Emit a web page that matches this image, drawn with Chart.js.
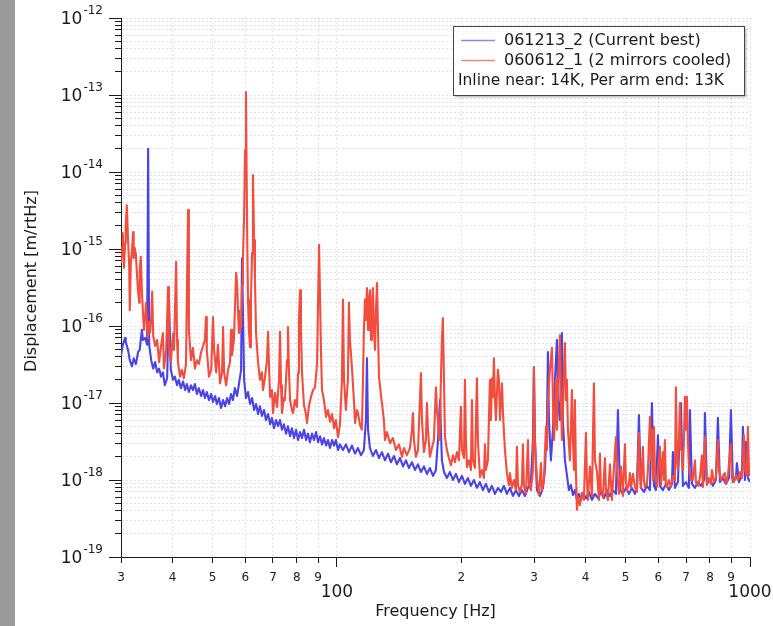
<!DOCTYPE html>
<html>
<head>
<meta charset="utf-8">
<title>Displacement noise spectrum</title>
<script src="https://cdn.jsdelivr.net/npm/chart.js@4.4.1/dist/chart.umd.min.js"></script>
<style>
  html, body { margin: 0; padding: 0; background: #fff; overflow: hidden; }
  canvas { display: block; }
</style>
</head>
<body>
<canvas id="spectrum" width="773" height="626"></canvas>
<script>
// Spectrum 061213_2 (current best), frequency in Hz and displacement in m/rtHz
const blueFreq = [
  30.0, 30.3, 30.7, 30.8, 31.2, 31.5, 31.9, 32.2, 32.6, 33.0,
  33.3, 33.7, 33.9, 34.3, 34.7, 34.9, 35.1, 35.5, 35.9, 36.3,
  36.7, 37.1, 37.5, 37.9, 38.3, 38.8, 39.2, 39.6, 40.1, 40.5,
  41.0, 41.4, 41.9, 42.4, 42.9, 43.3, 43.8, 44.3, 44.8, 45.3,
  45.8, 46.3, 46.9, 47.4, 47.9, 48.4, 49.0, 49.6, 50.1, 50.7,
  51.2, 51.8, 52.4, 53.0, 53.6, 54.2, 54.8, 55.4, 56.0, 56.6,
  57.3, 57.9, 58.6, 58.9, 59.6, 60.2, 60.9, 61.6, 62.3, 63.0,
  63.7, 64.4, 65.1, 65.8, 66.6, 67.3, 68.1, 68.9, 69.6, 70.4,
  71.2, 72.0, 72.8, 73.6, 74.4, 75.3, 76.1, 77.0, 77.8, 78.7,
  79.6, 80.5, 81.4, 82.3, 83.2, 84.2, 85.1, 86.0, 87.0, 88.0,
  89.0, 90.0, 91.0, 92.0, 93.0, 94.1, 95.1, 96.2, 97.3, 98.4,
  99.4, 100.6, 101.7, 103.4, 105.1, 106.9, 108.7, 110.6, 112.4, 114.3,
  116.2, 117.5, 118.2, 118.9, 120.2, 122.2, 124.3, 126.4, 128.5, 130.7,
  132.9, 135.1, 137.4, 139.7, 142.1, 144.5, 146.9, 149.4, 151.9, 154.5,
  157.1, 159.7, 162.4, 165.1, 167.9, 170.8, 173.6, 175.6, 177.6, 179.5,
  181.6, 184.6, 187.7, 190.9, 194.1, 197.4, 200.7, 204.1, 207.5, 211.0,
  214.6, 218.2, 221.9, 225.6, 229.4, 233.3, 237.2, 241.3, 245.3, 249.5,
  253.7, 257.9, 262.3, 266.7, 271.2, 275.8, 280.4, 285.2, 290.0, 294.9,
  298.2, 299.8, 301.5, 304.9, 310.0, 315.3, 318.8, 322.4, 324.2, 326.0,
  329.6, 333.3, 337.1, 340.9, 342.8, 346.6, 350.5, 352.4, 356.4, 360.4,
  364.4, 368.5, 372.7, 376.8, 381.1, 385.3, 389.6, 394.0, 400.7, 407.4,
  414.3, 421.3, 428.4, 435.6, 443.0, 450.4, 458.0, 465.7, 473.6, 478.9,
  484.3, 492.4, 500.7, 509.2, 517.8, 526.5, 532.4, 538.4, 544.4, 553.6,
  562.9, 572.4, 578.8, 585.3, 591.9, 598.5, 605.2, 615.4, 625.8, 636.4,
  647.1, 650.7, 658.0, 669.1, 680.4, 688.0, 699.6, 711.4, 715.4, 723.4,
  735.6, 748.0, 760.6, 773.5, 777.8, 786.5, 799.8, 813.2, 826.9, 836.2,
  845.6, 859.8, 874.3, 889.1, 899.1, 909.1, 924.5, 929.6, 940.1, 955.9,
  961.2, 972.1, 977.5, 988.4, 1000
];
const blueAmp = [
  4.1e-17, 5.7e-17, 7.0e-17, 6.2e-17, 4.9e-17, 3.6e-17, 3.0e-17, 3.8e-17, 3.2e-17, 4.6e-17,
  4.9e-17, 8.9e-17, 6.6e-17, 7.0e-17, 5.7e-17, 2.0e-14, 5.7e-17, 3.6e-17, 2.8e-17, 3.4e-17,
  2.5e-17, 2.8e-17, 2.2e-17, 2.5e-17, 1.7e-17, 2.1e-17, 2.3e-16, 2.7e-17, 2.0e-17, 2.2e-17,
  1.7e-17, 2.0e-17, 1.56e-17, 1.9e-17, 1.47e-17, 1.76e-17, 1.39e-17, 1.7e-17, 1.47e-17, 1.76e-17,
  1.31e-17, 1.56e-17, 1.23e-17, 1.47e-17, 1.16e-17, 1.39e-17, 1.09e-17, 1.31e-17, 1.03e-17, 1.23e-17,
  9.7e-18, 1.16e-17, 8.6e-18, 1.09e-17, 9.1e-18, 1.16e-17, 9.7e-18, 1.31e-17, 1.09e-17, 1.56e-17,
  1.23e-17, 1.76e-17, 2.7e-17, 7.6e-16, 2.0e-17, 1.16e-17, 1.39e-17, 9.7e-18, 1.16e-17, 8.1e-18,
  9.7e-18, 7.2e-18, 9.1e-18, 6.8e-18, 8.1e-18, 6.0e-18, 7.2e-18, 5.3e-18, 6.4e-18, 4.7e-18,
  6.0e-18, 5.0e-18, 6.0e-18, 4.5e-18, 5.3e-18, 4.0e-18, 5.0e-18, 3.7e-18, 4.7e-18, 3.5e-18,
  4.5e-18, 3.3e-18, 4.2e-18, 3.5e-18, 4.5e-18, 3.3e-18, 4.0e-18, 3.1e-18, 4.0e-18, 3.3e-18,
  4.2e-18, 3.1e-18, 3.7e-18, 2.9e-18, 3.5e-18, 2.8e-18, 3.3e-18, 2.6e-18, 3.3e-18, 2.8e-18,
  3.3e-18, 2.45e-18, 2.9e-18, 2.45e-18, 2.9e-18, 2.3e-18, 2.8e-18, 2.2e-18, 2.6e-18, 2.1e-18,
  2.45e-18, 6.0e-18, 3.8e-17, 4.5e-18, 2.6e-18, 2.05e-18, 2.45e-18, 1.93e-18, 2.3e-18, 1.8e-18,
  2.2e-18, 1.7e-18, 2.05e-18, 1.6e-18, 1.93e-18, 1.5e-18, 1.8e-18, 1.43e-18, 1.7e-18, 1.35e-18,
  1.6e-18, 1.27e-18, 1.5e-18, 1.2e-18, 1.43e-18, 1.13e-18, 1.35e-18, 3.3e-18, 1.09e-17, 1.8e-18,
  1.27e-18, 1.06e-18, 1.27e-18, 1.0e-18, 1.2e-18, 9.4e-19, 1.13e-18, 8.9e-19, 1.06e-18, 8.4e-19,
  1.0e-18, 7.9e-19, 9.4e-19, 7.4e-19, 8.9e-19, 7.0e-19, 8.4e-19, 6.6e-19, 7.9e-19, 7.0e-19,
  8.4e-19, 6.6e-19, 7.9e-19, 6.2e-19, 7.4e-19, 6.2e-19, 7.4e-19, 6.2e-19, 7.9e-19, 1.0e-18,
  3.3e-18, 2.9e-17, 3.3e-18, 7.4e-19, 6.2e-19, 7.9e-19, 1.35e-18, 6.0e-18, 4.6e-17, 6.0e-18,
  1.8e-18, 4.5e-18, 2.0e-17, 6.6e-17, 1.09e-17, 6.0e-18, 8.1e-17, 6.0e-18, 1.8e-18, 1.16e-18,
  7.4e-19, 8.6e-19, 6.4e-19, 7.4e-19, 5.5e-19, 6.6e-19, 5.5e-19, 6.6e-19, 5.8e-19, 7.0e-19,
  5.5e-19, 6.6e-19, 5.8e-19, 7.0e-19, 5.8e-19, 7.4e-19, 6.2e-19, 7.4e-19, 6.6e-19, 8.1e-18,
  7.4e-19, 6.6e-19, 7.9e-19, 6.6e-19, 7.9e-19, 6.6e-19, 8.4e-19, 7.0e-18, 7.9e-19, 7.0e-19,
  8.4e-19, 7.4e-19, 1.0e-17, 8.4e-19, 7.4e-19, 3.8e-18, 8.4e-19, 7.4e-19, 8.9e-19, 7.4e-19,
  8.9e-19, 2.3e-18, 7.9e-19, 9.4e-19, 1.0e-17, 8.4e-19, 9.4e-19, 7.9e-19, 8.1e-18, 8.9e-19,
  7.9e-19, 9.4e-19, 8.4e-19, 1.0e-18, 7.4e-18, 8.9e-19, 1.0e-18, 8.4e-19, 1.0e-18, 6.4e-18,
  9.4e-19, 1.06e-18, 8.9e-19, 1.06e-18, 8.1e-18, 9.4e-19, 1.06e-18, 1.66e-18, 9.4e-19, 1.13e-18,
  4.9e-18, 1.0e-18, 3.1e-18, 1.06e-18, 9.4e-19
];

// Spectrum 060612_1 (2 mirrors cooled)
const redFreq = [
  30.0, 30.2, 30.3, 30.5, 30.7, 30.8, 31.0, 31.2, 31.4, 31.5,
  31.7, 31.9, 32.1, 32.2, 32.4, 32.6, 32.8, 33.0, 33.2, 33.3,
  33.5, 33.7, 33.9, 34.1, 34.3, 34.5, 34.7, 34.9, 35.1, 35.3,
  35.5, 35.7, 35.9, 36.3, 36.7, 37.1, 37.5, 37.9, 38.1, 38.6,
  39.0, 39.2, 39.6, 40.1, 40.3, 40.8, 41.0, 41.2, 41.7, 42.1,
  42.6, 43.1, 43.3, 43.6, 43.8, 44.3, 44.8, 45.3, 45.8, 46.3,
  46.9, 47.4, 47.9, 48.2, 48.4, 49.0, 49.6, 50.1, 50.4, 51.0,
  51.5, 52.1, 52.7, 53.0, 53.3, 53.9, 54.5, 55.1, 55.4, 55.7,
  56.3, 56.6, 57.0, 57.3, 57.6, 57.9, 58.6, 58.9, 59.2, 59.6,
  59.9, 60.2, 60.6, 60.9, 61.2, 61.6, 61.9, 62.3, 62.6, 63.0,
  63.3, 63.7, 64.4, 65.1, 65.8, 66.2, 66.9, 67.7, 68.1, 68.5,
  68.9, 69.6, 70.0, 70.8, 71.6, 72.4, 72.8, 73.2, 73.6, 74.4,
  74.8, 75.7, 76.1, 76.5, 77.0, 77.8, 78.3, 79.1, 80.0, 80.5,
  80.9, 81.4, 81.8, 82.3, 83.2, 84.2, 84.6, 85.6, 86.5, 87.5,
  88.5, 89.5, 90.0, 90.5, 91.0, 91.5, 92.0, 93.0, 94.1, 95.1,
  96.2, 97.3, 98.4, 99.4, 100.6, 101.7, 102.8, 103.4, 104.0, 105.1,
  106.3, 106.9, 107.5, 108.7, 109.9, 110.6, 111.8, 112.4, 113.7, 114.9,
  115.6, 116.2, 116.9, 117.5, 118.2, 118.9, 119.5, 120.2, 120.9, 121.5,
  122.2, 122.9, 123.6, 124.3, 125.0, 125.7, 126.4, 127.8, 128.5, 129.9,
  130.7, 132.1, 134.4, 136.6, 138.9, 141.3, 143.7, 145.3, 147.7, 150.2,
  151.9, 152.7, 153.6, 155.3, 157.1, 158.8, 159.7, 160.6, 162.4, 164.2,
  165.1, 166.1, 167.9, 169.8, 171.7, 173.6, 174.6, 175.6, 176.6, 177.6,
  178.5, 179.5, 180.5, 181.6, 182.6, 184.6, 186.7, 188.8, 190.9, 193.0,
  195.2, 197.4, 199.6, 200.7, 203.0, 204.1, 205.2, 206.4, 208.7, 211.0,
  212.2, 213.4, 215.8, 218.2, 219.4, 221.9, 224.4, 226.9, 228.2, 229.4,
  232.0, 234.6, 235.9, 237.2, 238.6, 239.9, 241.3, 242.6, 244.0, 245.3,
  246.7, 248.1, 250.9, 252.3, 255.1, 257.9, 260.8, 262.3, 265.2, 268.2,
  271.2, 272.7, 274.3, 277.3, 280.4, 282.0, 283.6, 286.8, 290.0, 291.6,
  294.9, 298.2, 299.8, 301.5, 304.9, 308.3, 311.8, 313.5, 317.0, 320.6,
  322.4, 324.2, 327.8, 331.5, 333.3, 335.2, 337.1, 339.0, 340.9, 342.8,
  346.6, 348.5, 350.5, 352.4, 354.4, 356.4, 358.4, 360.4, 362.4, 366.5,
  370.6, 372.7, 374.8, 376.8, 378.9, 381.1, 383.2, 387.5, 391.8, 396.2,
  400.7, 402.9, 405.1, 409.7, 414.3, 418.9, 421.3, 426.0, 430.8, 433.2,
  435.6, 440.5, 445.4, 447.9, 452.9, 458.0, 463.1, 468.3, 473.6, 476.2,
  481.6, 487.0, 492.4, 497.9, 500.7, 503.5, 509.2, 512.0, 514.9, 520.7,
  526.5, 532.4, 538.4, 541.4, 544.4, 550.5, 553.6, 556.7, 562.9, 566.1,
  572.4, 575.6, 578.8, 582.0, 585.3, 588.6, 595.2, 605.2, 608.6, 615.4,
  618.8, 622.3, 625.8, 629.3, 636.4, 643.5, 650.7, 658.0, 661.7, 665.4,
  669.1, 672.8, 676.6, 680.4, 684.2, 688.0, 691.9, 695.7, 699.6, 703.5,
  707.5, 711.4, 719.4, 727.4, 735.6, 739.7, 748.0, 756.4, 764.9, 769.1,
  777.8, 782.1, 786.5, 795.3, 804.2, 808.7, 817.8, 826.9, 836.2, 840.9,
  850.3, 859.8, 869.5, 874.3, 884.1, 899.1, 904.1, 914.2, 924.5, 934.8,
  945.3, 955.9, 966.7, 972.1, 982.9, 988.4, 994.0, 1000
];
const redAmp = [
  6.6e-16, 1.06e-15, 1.61e-15, 5.7e-16, 1.2e-15, 2.05e-15, 3.7e-15, 1.31e-15, 6.2e-16, 1.6e-16,
  6.8e-16, 9.7e-16, 1.66e-15, 7.6e-16, 1.03e-15, 8.4e-16, 4.6e-16, 2.8e-16, 2.0e-16, 5.3e-16,
  7.9e-16, 2.9e-16, 1.5e-16, 8.9e-17, 1.27e-16, 2.0e-16, 1.03e-16, 7.0e-17, 1.13e-16, 8.4e-17,
  1.27e-16, 2.8e-16, 7.4e-17, 5.5e-17, 6.6e-17, 3.4e-17, 5.5e-17, 8.1e-17, 2.8e-17, 4.9e-17,
  3.2e-16, 6.2e-17, 3.4e-17, 7.9e-17, 4.9e-17, 6.8e-16, 6.6e-17, 3.4e-17, 2.2e-17, 2.7e-17,
  2.1e-17, 3.2e-17, 2.2e-16, 3.2e-15, 8.9e-17, 3.6e-17, 5.2e-17, 2.8e-17, 3.6e-17, 3.2e-17,
  4.6e-17, 5.5e-17, 6.6e-17, 1.31e-16, 4.9e-17, 2.2e-17, 2.7e-17, 1.31e-16, 4.9e-17, 2.5e-17,
  5.7e-17, 1.8e-17, 2.5e-17, 9.7e-17, 2.5e-17, 1.7e-17, 2.7e-17, 3.4e-17, 8.9e-17, 4.2e-17,
  6.6e-17, 1.6e-16, 4.9e-16, 3.6e-16, 1.6e-16, 8.1e-17, 9.7e-17, 3.4e-16, 7.2e-16, 2.9e-15,
  1.93e-14, 1.09e-13, 1.76e-15, 2.2e-16, 8.9e-17, 5.3e-17, 2.2e-16, 8.9e-16, 9.1e-15, 1.31e-15,
  4.0e-16, 8.1e-17, 3.4e-17, 2.0e-17, 2.5e-17, 1.47e-17, 2.1e-17, 3.6e-17, 8.4e-17, 2.7e-17,
  1.2e-17, 1.47e-17, 7.4e-18, 1.35e-17, 8.9e-18, 2.0e-17, 8.4e-17, 1.7e-17, 7.4e-18, 1.16e-17,
  1.09e-17, 3.6e-17, 9.7e-17, 2.7e-17, 1.09e-17, 8.1e-18, 7.4e-18, 1.09e-17, 8.9e-18, 2.45e-17,
  1.2e-16, 2.9e-16, 8.9e-17, 2.45e-17, 9.4e-18, 7.0e-18, 5.5e-18, 9.4e-18, 1.2e-17, 1.47e-17,
  1.6e-17, 3.3e-17, 2.2e-16, 1.13e-15, 2.2e-16, 4.5e-17, 1.47e-17, 1.09e-17, 6.6e-18, 8.1e-18,
  5.7e-18, 7.2e-18, 4.7e-18, 6.0e-18, 3.6e-18, 5.2e-18, 2.0e-17, 2.2e-16, 2.0e-17, 8.1e-18,
  2.0e-17, 2.0e-16, 6.6e-17, 2.9e-17, 1.09e-17, 5.5e-18, 8.1e-18, 7.4e-18, 5.2e-18, 4.5e-18,
  2.0e-17, 8.9e-17, 2.2e-16, 1.2e-16, 3.1e-16, 8.9e-17, 2.2e-16, 2.9e-16, 6.6e-17, 1.6e-16,
  3.1e-16, 8.9e-17, 4.9e-17, 1.6e-16, 3.6e-16, 8.9e-17, 2.2e-17, 1.27e-17, 1.0e-17, 6.0e-18,
  3.3e-18, 4.2e-18, 3.0e-18, 3.5e-18, 2.45e-18, 2.9e-18, 2.0e-18, 2.6e-18, 2.1e-18, 2.6e-18,
  4.5e-18, 7.4e-18, 3.3e-18, 2.0e-18, 2.45e-18, 1.09e-17, 2.45e-17, 6.0e-18, 2.3e-18, 3.3e-18,
  1.0e-17, 4.5e-18, 2.0e-18, 2.6e-18, 3.3e-18, 1.6e-17, 8.1e-18, 6.0e-18, 3.3e-18, 4.5e-18,
  2.0e-17, 6.6e-17, 1.27e-16, 2.0e-17, 3.6e-18, 2.45e-18, 1.93e-18, 1.56e-18, 2.1e-18, 1.7e-18,
  2.3e-18, 1.8e-18, 8.9e-18, 2.45e-18, 1.93e-18, 2.0e-17, 3.3e-18, 1.47e-18, 1.8e-18, 1.35e-18,
  1.09e-17, 1.8e-18, 1.43e-18, 2.1e-17, 3.3e-18, 1.09e-18, 1.35e-18, 1.06e-18, 2.9e-18, 1.35e-18,
  1.8e-18, 2.0e-17, 6.0e-18, 2.1e-17, 1.2e-17, 3.8e-17, 1.09e-17, 6.0e-18, 1.35e-17, 2.7e-17,
  2.0e-17, 6.0e-18, 1.8e-17, 7.4e-18, 2.45e-18, 1.23e-18, 8.6e-19, 1.23e-18, 7.9e-19, 1.0e-18,
  7.4e-19, 2.7e-18, 8.6e-19, 7.0e-19, 8.9e-19, 2.9e-18, 8.4e-19, 6.6e-19, 3.3e-18, 8.9e-19,
  7.4e-19, 1.35e-18, 2.9e-17, 3.3e-18, 1.0e-18, 6.4e-19, 1.66e-18, 7.4e-19, 1.0e-18, 4.9e-18,
  2.45e-18, 1.09e-17, 2.7e-17, 5.2e-17, 1.09e-17, 3.3e-18, 6.0e-18, 2.0e-17, 4.5e-18, 1.47e-17,
  7.6e-17, 1.09e-17, 3.3e-18, 8.1e-18, 2.7e-17, 6.0e-17, 1.09e-17, 2.0e-17, 4.5e-18, 1.8e-18,
  1.47e-17, 3.3e-18, 1.35e-18, 1.09e-17, 1.35e-18, 4.1e-19, 6.0e-19, 4.7e-19, 6.8e-19, 5.5e-19,
  4.1e-18, 1.0e-18, 5.5e-19, 1.5e-18, 6.2e-19, 1.8e-17, 1.8e-18, 1.3e-18, 5.5e-19, 2.2e-18,
  7.4e-19, 6.0e-19, 1.93e-18, 7.4e-19, 5.5e-19, 1.6e-18, 5.5e-19, 1.4e-18, 3.6e-18, 1.35e-18,
  6.6e-19, 1.5e-18, 6.2e-19, 2.9e-18, 1.0e-18, 7.4e-19, 8.9e-19, 1.23e-18, 7.9e-19, 1.2e-18,
  8.1e-19, 7.0e-19, 4.1e-18, 1.16e-18, 7.9e-19, 2.7e-18, 1.0e-18, 8.1e-19, 8.9e-19, 1.35e-18,
  6.6e-18, 1.8e-18, 4.5e-18, 1.0e-18, 4.9e-18, 1.35e-18, 8.1e-19, 2.7e-18, 8.6e-19, 2.3e-18,
  1.0e-18, 3.3e-18, 8.6e-19, 8.1e-19, 1.0e-18, 8.1e-19, 1.13e-18, 1.0e-18, 1.6e-17, 1.8e-18,
  1.35e-18, 3.3e-18, 1.0e-17, 2.45e-18, 2.45e-18, 1.35e-18, 3.3e-18, 1.2e-17, 4.5e-18, 1.2e-17,
  3.3e-18, 1.47e-18, 1.0e-18, 1.0e-18, 1.8e-18, 9.4e-19, 8.4e-19, 1.06e-18, 2.1e-18, 8.1e-19,
  3.6e-18, 1.35e-18, 8.6e-19, 1.06e-18, 8.9e-19, 1.35e-18, 9.4e-19, 1.06e-18, 3.3e-18, 1.35e-18,
  1.0e-18, 1.13e-18, 1.23e-18, 8.9e-19, 1.13e-18, 2.9e-18, 1.06e-18, 9.4e-19, 1.16e-18, 1.0e-18,
  1.27e-18, 1.06e-18, 3.8e-18, 1.35e-18, 1.16e-18, 4.9e-18, 1.35e-18, 1.13e-18
];

// Axis ticks
const freqTicks = [30, 40, 50, 60, 70, 80, 90, 100, 200, 300, 400, 500, 600, 700, 800, 900, 1000];
const freqTickLabels = ['3', '4', '5', '6', '7', '8', '9', '100', '2', '3', '4', '5', '6', '7', '8', '9', '1000'];
const freqMajor = [100, 1000];
const ampDecades = [-19, -18, -17, -16, -15, -14, -13, -12];
const ampMantissas = [2, 3, 4, 5, 6, 7, 8, 9];

const seriesNames = ['061213_2 (Current best)', '060612_1 (2 mirrors cooled)'];
const noteText = 'Inline near: 14K, Per arm end: 13K';

const BLUE = '#4a43e6';
const RED = '#f24d3d';
const GRID = 'rgba(170, 170, 232, 0.38)';
const FONT = '"DejaVu Sans", sans-serif';

function toPoints(freqs, amps) {
  return freqs.map((f, i) => ({ x: f, y: amps[i] }));
}

function buildAmpTicks() {
  const ticks = [];
  ampDecades.forEach((d, i) => {
    ticks.push({ value: Math.pow(10, d), major: true });
    if (i < ampDecades.length - 1) {
      ampMantissas.forEach(m => ticks.push({ value: m * Math.pow(10, d), major: false }));
    }
  });
  return ticks;
}

// Tick marks, superscript tick labels, titles, legend box
const decorations = {
  id: 'decorations',
  beforeDraw(chart) {
    const { ctx, width, height } = chart;
    ctx.save();
    ctx.fillStyle = '#ffffff';
    ctx.fillRect(0, 0, width, height);
    ctx.fillStyle = '#9b9b9b';
    ctx.fillRect(0, 0, 15, height);
    ctx.restore();
  },
  afterDraw(chart) {
    const { ctx, chartArea: area, scales } = chart;
    const xs = scales.x, ys = scales.y;
    ctx.save();

    // tick marks
    ctx.strokeStyle = '#1a1a1a';
    ctx.lineWidth = 1;
    ctx.beginPath();
    ys.ticks.forEach(t => {
      const py = Math.round(ys.getPixelForValue(t.value) - 0.5) + 0.5;
      ctx.moveTo(area.left - (t.major ? 12 : 6), py);
      ctx.lineTo(area.left + 0.5, py);
    });
    xs.ticks.forEach(t => {
      const px = Math.round(xs.getPixelForValue(t.value) - 0.5) + 0.5;
      ctx.moveTo(px, area.bottom);
      ctx.lineTo(px, area.bottom + (t.major ? 10 : 6));
    });
    ctx.stroke();

    // y tick labels: 10 with superscript exponent
    ctx.fillStyle = '#1a1a1a';
    ctx.textBaseline = 'middle';
    ctx.textAlign = 'left';
    const labelRight = area.left - 18;
    ampDecades.forEach(d => {
      const py = ys.getPixelForValue(Math.pow(10, d));
      const exp = String(d);
      ctx.font = '12px ' + FONT;
      const we = ctx.measureText(exp).width;
      ctx.font = '17px ' + FONT;
      const wb = ctx.measureText('10').width;
      ctx.fillText('10', labelRight - we - wb - 1, py + 2);
      ctx.font = '12px ' + FONT;
      ctx.fillText(exp, labelRight - we, py - 7);
    });

    // x tick labels
    ctx.textAlign = 'center';
    freqTicks.forEach((v, i) => {
      const px = xs.getPixelForValue(v);
      if (freqMajor.includes(v)) {
        ctx.font = '17px ' + FONT;
        ctx.fillText(freqTickLabels[i], px, area.bottom + 36);
      } else {
        ctx.font = '12px ' + FONT;
        ctx.fillText(freqTickLabels[i], px, area.bottom + 21);
      }
    });

    // axis titles
    ctx.font = '16px ' + FONT;
    ctx.fillText('Frequency [Hz]', (area.left + area.right) / 2, 612);
    ctx.save();
    ctx.translate(32, 281);
    ctx.rotate(-Math.PI / 2);
    ctx.fillText('Displacement [m/rtHz]', 0, 0);
    ctx.restore();

    // legend
    const bx = 453.5, by = 26.5, bw = 291, bh = 69;
    ctx.save();
    ctx.shadowColor = 'rgba(0,0,0,0.35)';
    ctx.shadowOffsetX = 1;
    ctx.shadowOffsetY = 1;
    ctx.shadowBlur = 2;
    ctx.fillStyle = '#ffffff';
    ctx.fillRect(bx, by, bw, bh);
    ctx.restore();
    ctx.strokeStyle = '#444';
    ctx.lineWidth = 1;
    ctx.strokeRect(bx, by, bw, bh);

    const sampleTints = ['#8d87f2', '#f5877c'];
    ctx.textAlign = 'left';
    ctx.font = '16px ' + FONT;
    ctx.fillStyle = '#1a1a1a';
    seriesNames.forEach((name, i) => {
      const ly = 40.5 + i * 20;
      ctx.strokeStyle = sampleTints[i];
      ctx.lineWidth = 1.3;
      ctx.beginPath();
      ctx.moveTo(461, ly);
      ctx.lineTo(495, ly);
      ctx.stroke();
      ctx.fillText(name, 504, ly);
    });
    ctx.fillText(noteText, 458, 81, 266);

    ctx.restore();
  }
};

const ctx = document.getElementById('spectrum').getContext('2d');
new Chart(ctx, {
  type: 'line',
  data: {
    datasets: [
      {
        label: seriesNames[0],
        data: toPoints(blueFreq, blueAmp),
        borderColor: BLUE,
        borderWidth: 2.1,
        pointRadius: 0,
        tension: 0,
        borderJoinStyle: 'round',
        order: 2
      },
      {
        label: seriesNames[1],
        data: toPoints(redFreq, redAmp),
        borderColor: RED,
        borderWidth: 2.1,
        pointRadius: 0,
        tension: 0,
        borderJoinStyle: 'round',
        order: 1
      }
    ]
  },
  options: {
    responsive: false,
    animation: false,
    devicePixelRatio: 1,
    layout: { padding: { left: 121, right: 23, top: 18, bottom: 69 } },
    plugins: { legend: { display: false }, tooltip: { enabled: false } },
    scales: {
      x: {
        type: 'logarithmic',
        min: 30,
        max: 1000,
        afterBuildTicks: scale => {
          scale.ticks = freqTicks.map(v => ({ value: v, major: freqMajor.includes(v) }));
        },
        ticks: { display: false },
        grid: { color: GRID, lineWidth: 1, drawTicks: false },
        border: { display: true, color: '#1a1a1a', width: 1, dash: [2, 2] }
      },
      y: {
        type: 'logarithmic',
        min: 1e-19,
        max: 1e-12,
        afterBuildTicks: scale => {
          scale.ticks = buildAmpTicks();
        },
        ticks: { display: false },
        grid: { color: GRID, lineWidth: 1, drawTicks: false },
        border: { display: true, color: '#1a1a1a', width: 1, dash: [2, 2] }
      }
    }
  },
  plugins: [decorations]
});
</script>
</body>
</html>
